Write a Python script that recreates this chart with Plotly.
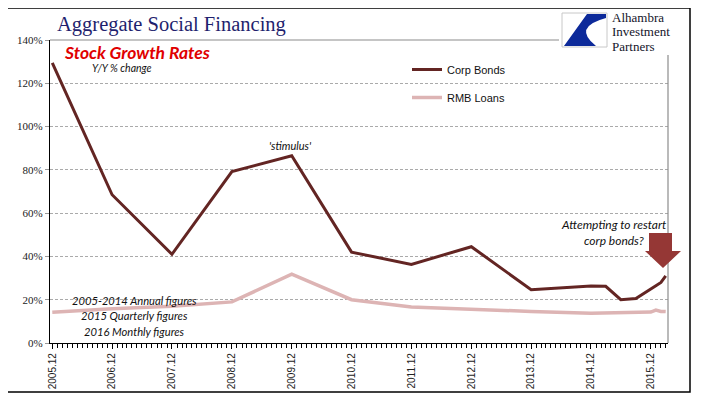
import plotly.graph_objects as go

dates = ["2005-12-01", "2006-12-01", "2007-12-01", "2008-12-01", "2009-12-01",
         "2010-12-01", "2011-12-01", "2012-12-01", "2013-12-01", "2014-12-01",
         "2015-03-01", "2015-06-01", "2015-09-01", "2015-12-01",
         "2016-01-01", "2016-02-01", "2016-03-01"]
corp_bonds = [129.4, 68.5, 41.0, 79.2, 86.5, 42.0, 36.3, 44.5, 24.6, 26.3,
              26.2, 20.0, 20.6, 25.3, 26.5, 28.0, 31.0]
rmb_loans = [14.2, 15.8, 17.0, 19.0, 31.8, 20.0, 16.6, 15.4, 14.6, 13.8,
             13.9, 14.0, 14.0, 14.3, 15.2, 14.6, 14.5]

OFF = 8  # page body margin
L, R, T, B = 50, 668, 40, 343  # plot area in page pixels
W, H = 705, 401


def px(x):
    return (x - L) / (R - L)


def py(y):
    return (B - y) / (B - T)


fig = go.Figure()
fig.add_trace(go.Scatter(x=dates, y=corp_bonds, name="Corp Bonds", mode="lines",
                         line=dict(color="#632523", width=3), legendgroup="a"))
fig.add_trace(go.Scatter(x=dates, y=rmb_loans, name="RMB Loans", mode="lines",
                         line=dict(color="#DDB4B4", width=3.5), legendgroup="b"))

shapes = []
shapes.append(dict(type="rect", xref="paper", yref="paper",
                   x0=px(7), x1=px(690), y0=py(392), y1=py(8),
                   line=dict(color="black", width=1.5), layer="above"))
shapes.append(dict(type="line", xref="paper", yref="paper", x0=0, x1=1, y0=1, y1=1,
                   line=dict(color="#8C8C8C", width=1.2), layer="above"))
shapes.append(dict(type="line", xref="paper", yref="paper", x0=1, x1=1, y0=0, y1=1,
                   line=dict(color="#8C8C8C", width=1.2), layer="above"))
shapes.append(dict(type="rect", xref="paper", yref="paper",
                   x0=px(559), x1=px(688), y0=py(55), y1=py(9.5),
                   fillcolor="white", line=dict(width=0), layer="above"))
shapes.append(dict(type="rect", xref="paper", yref="paper",
                   x0=px(562), x1=px(607), y0=py(47), y1=py(13),
                   fillcolor="white", line=dict(color="#C8C8C8", width=1), layer="above"))


def fmt(p):
    return f"{px(p[0]):.5f},{py(p[1]):.5f}"


def poly(points):
    s = "M " + fmt(points[0])
    for p in points[1:]:
        s += " L " + fmt(p)
    return s + " Z"


logo_path = ("M " + fmt((587, 14)) + " L " + fmt((606, 14)) + " L " + fmt((606, 18)) +
             " Q " + fmt((572, 27)) + " " + fmt((596, 46)) + " L " + fmt((564, 46)) + " Z")
shapes.append(dict(type="path", xref="paper", yref="paper", path=logo_path,
                   fillcolor="#0D2A9A", line=dict(width=0), layer="above"))
arrow_path = poly([(649, 233), (672, 233), (672, 251), (681, 251),
                   (663, 268), (645, 251), (649, 251)])
shapes.append(dict(type="path", xref="paper", yref="paper", path=arrow_path,
                   fillcolor="#953735", line=dict(width=0), layer="above"))

ann_font = "Lato"
annotations = [
    dict(text="Aggregate Social Financing", x=px(55), y=py(24), xanchor="left", yanchor="middle",
         font=dict(family="Liberation Serif", size=20.5, color="#1F1F6E")),
    dict(text="<b><i>Stock Growth Rates</i></b>", x=px(62), y=py(53), xanchor="left", yanchor="middle",
         font=dict(family=ann_font, size=17.5, color="#E00000")),
    dict(text="<i>Y/Y % change</i>", x=px(90), y=py(68), xanchor="left", yanchor="middle",
         font=dict(family=ann_font, size=10.5, color="#111111")),
    dict(text="<i>'stimulus'</i>", x=px(290), y=py(145), xanchor="center", yanchor="middle",
         font=dict(family=ann_font, size=11, color="#111111")),
    dict(text="<i>Attempting to restart</i>", x=px(614), y=py(224), xanchor="center", yanchor="middle",
         font=dict(family=ann_font, size=12, color="#111111")),
    dict(text="<i>corp bonds?</i>", x=px(614), y=py(240), xanchor="center", yanchor="middle",
         font=dict(family=ann_font, size=12, color="#111111")),
    dict(text="<i>2005-2014 Annual figures</i>", x=px(134), y=py(300), xanchor="center", yanchor="middle",
         font=dict(family=ann_font, size=11.2, color="#111111")),
    dict(text="<i>2015 Quarterly figures</i>", x=px(134), y=py(315), xanchor="center", yanchor="middle",
         font=dict(family=ann_font, size=11.2, color="#111111")),
    dict(text="<i>2016 Monthly figures</i>", x=px(134), y=py(331), xanchor="center", yanchor="middle",
         font=dict(family=ann_font, size=11.2, color="#111111")),
]
for txt, yy in [("Alhambra", 17.5), ("Investment", 32), ("Partners", 46.5)]:
    annotations.append(dict(text=txt, x=px(611), y=py(yy), xanchor="left", yanchor="middle",
                            borderpad=0,
                            font=dict(family="Liberation Serif", size=13, color="#14142a")))
for a in annotations:
    a.update(xref="paper", yref="paper", showarrow=False)

fig.update_layout(
    width=W - OFF, height=H - OFF,
    margin=dict(l=L - OFF, r=W - R, t=T - OFF, b=H - B, autoexpand=False),
    paper_bgcolor="white", plot_bgcolor="white",
    showlegend=True,
    legend=dict(x=px(407), y=py(55), xanchor="left", yanchor="top",
                bgcolor="rgba(0,0,0,0)", traceorder="grouped", tracegroupgap=9,
                itemwidth=30, font=dict(family="Liberation Sans", size=11, color="#111111")),
    shapes=shapes,
    annotations=annotations,
    xaxis=dict(type="date", range=["2005-11-17", "2016-03-15"],
               tick0="2005-12-01", dtick="M12", tickformat="%Y.%m", tickangle=-90,
               ticks="outside", ticklen=5, tickcolor="black", automargin=False,
               minor=dict(dtick="M1", tick0="2005-12-01", ticks="outside", ticklen=4, tickcolor="black", showgrid=False),
               showgrid=False, showline=True, linecolor="black", linewidth=1.2,
               tickfont=dict(family="Liberation Sans", size=10, color="#222222"), fixedrange=True),
    yaxis=dict(range=[0, 140], dtick=20, ticksuffix="%", ticks="outside", ticklen=4,
               tickcolor="#999999", automargin=False,
               showgrid=True, gridcolor="#AAAAAA", griddash="3px,2px", gridwidth=0.8,
               showline=True, linecolor="black", linewidth=1.2, zeroline=False,
               tickfont=dict(family="Liberation Serif", size=11, color="#222222"), fixedrange=True),
)

fig.write_html("out.html")
